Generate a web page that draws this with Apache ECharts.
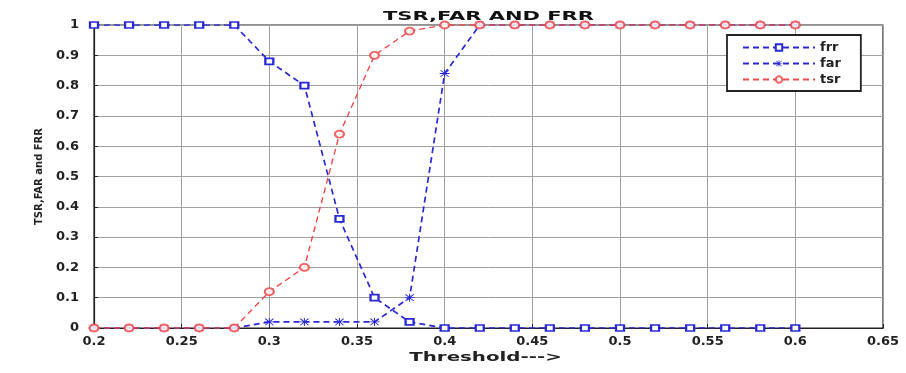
<!DOCTYPE html>
<html>
<head>
<meta charset="utf-8">
<script src="https://cdn.jsdelivr.net/npm/echarts@6/dist/echarts.min.js"></script>
<style>
html,body{margin:0;padding:0;background:#fff;}
#c{width:906px;height:373px;}
</style>
</head>
<body>
<div id="c"></div>
<script>
const thresholds = [0.2,0.22,0.24,0.26,0.28,0.3,0.32,0.34,0.36,0.38,0.4,0.42,0.44,0.46,0.48,0.5,0.52,0.54,0.56,0.58,0.6];
const frr = [1,1,1,1,1,0.88,0.8,0.36,0.1,0.02,0,0,0,0,0,0,0,0,0,0,0];
const far = [0,0,0,0,0,0.02,0.02,0.02,0.02,0.1,0.84,1,1,1,1,1,1,1,1,1,1];
const tsr = [0,0,0,0,0,0.12,0.2,0.64,0.9,0.98,1,1,1,1,1,1,1,1,1,1,1];
const xTickLabels = ['0.2','0.25','0.3','0.35','0.4','0.45','0.5','0.55','0.6','0.65'];
const yTickLabels = ['0','0.1','0.2','0.3','0.4','0.5','0.6','0.7','0.8','0.9','1'];
const titleText = 'TSR,FAR AND FRR';
const xName = 'Threshold--->';
const yName = 'TSR,FAR and FRR';

const pair = arr => thresholds.map((t,i)=>[t,arr[i]]);
const blue = '#2a2ad8';
const red = '#f04a4a';
const asterisk = 'path://M45,0 L55,0 L55,100 L45,100 Z M0,45 L100,45 L100,55 L0,55 Z M12,5 L95,88 L88,95 L5,12 Z M88,5 L95,12 L12,95 L5,88 Z';

const G = {left:94, right:23, top:25, bottom:45};
const W = 906, H = 373;
const cx = G.left + (W - G.left - G.right) / 2;

const chart = echarts.init(document.getElementById('c'), null, {renderer:'canvas'});
const lbl = {fontFamily:'DejaVu Sans', fontWeight:'bold', fontSize:13, color:'#222'};
chart.setOption({
  animation:false,
  backgroundColor:'#fff',
  graphic:[
    {type:'text', x:cx, y:17, scaleX:1.75, scaleY:1, z:100,
     style:{text:titleText, x:0, y:0, align:'center', verticalAlign:'middle',
            font:'bold 12px "DejaVu Sans"', fill:'#111'}},
    {type:'text', x:cx - 3, y:358, scaleX:1.65, scaleY:1, z:100,
     style:{text:xName, x:0, y:0, align:'center', verticalAlign:'middle',
            font:'bold 12px "DejaVu Sans"', fill:'#222'}}
  ],
  grid:{left:G.left, right:G.right, top:G.top, bottom:G.bottom, show:true, borderColor:'#222', borderWidth:1.2},
  legend:{
    orient:'vertical', left:727, top:35,
    padding:[5,20,4,15], itemGap:1, itemWidth:72, itemHeight:8,
    backgroundColor:'#fff', borderColor:'#222', borderWidth:1.8,
    textStyle:{fontFamily:'DejaVu Sans', fontWeight:'bold', fontSize:13, color:'#222', lineHeight:15},
    data:['frr','far','tsr']
  },
  xAxis:{
    type:'value', min:0.2, max:0.65, interval:0.05,
    axisLine:{show:true, lineStyle:{color:'#222', width:1.2}},
    axisTick:{show:true, inside:true, length:4, lineStyle:{color:'#222'}},
    axisLabel:{...lbl, margin:7, formatter:(v)=>{const i=Math.round((v-0.2)/0.05); return xTickLabels[i]!==undefined?xTickLabels[i]:'';}},
    splitLine:{show:true, lineStyle:{color:'#a0a0a0', width:1}}
  },
  yAxis:{
    type:'value', min:0, max:1, interval:0.1,
    name:yName, nameLocation:'middle', nameGap:50, nameRotate:90,
    nameTextStyle:{fontFamily:'DejaVu Sans', fontWeight:'bold', fontSize:10, color:'#222'},
    axisLine:{show:true, lineStyle:{color:'#222', width:1.2}},
    axisTick:{show:true, inside:true, length:4, lineStyle:{color:'#222'}},
    axisLabel:{...lbl, margin:15, formatter:(v)=>{const i=Math.round(v*10); return yTickLabels[i]!==undefined?yTickLabels[i]:'';}},
    splitLine:{show:true, lineStyle:{color:'#a0a0a0', width:1}}
  },
  series:[
    {name:'frr', type:'line', data:pair(frr), symbol:'emptyRect', symbolSize:[8,6],
     itemStyle:{color:blue, borderWidth:1.6}, lineStyle:{color:blue, width:1.7, type:[6,4]}},
    {name:'far', type:'line', data:pair(far), symbol:asterisk, symbolSize:[10,8],
     itemStyle:{color:blue}, lineStyle:{color:blue, width:1.7, type:[6,4]}},
    {name:'tsr', type:'line', data:pair(tsr), symbol:'emptyCircle', symbolSize:[9,7],
     itemStyle:{color:red, borderWidth:1.5, opacity:0.85}, lineStyle:{color:red, width:1.4, type:[6,4]}}
  ]
});
</script>
</body>
</html>
